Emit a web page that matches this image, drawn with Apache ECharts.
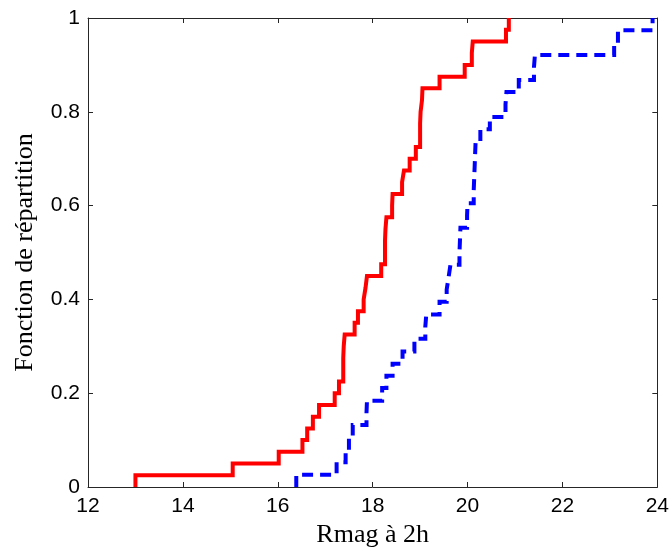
<!DOCTYPE html>
<html>
<head>
<meta charset="utf-8">
<script src="https://cdn.jsdelivr.net/npm/echarts@6/dist/echarts.min.js"></script>
<style>
html,body{margin:0;padding:0;background:#fff;}
#chart{width:672px;height:553px;}
</style>
</head>
<body>
<div id="chart"></div>
<script>
// x tick values
const xTicks = [12, 14, 16, 18, 20, 22, 24];
const yTicks = [0, 0.2, 0.4, 0.6, 0.8, 1];

// Red sample (solid): magnitudes at each step and cumulative level
const redMag = [13.0, 15.05, 16.02, 16.52, 16.62, 16.74, 16.87, 17.2, 17.29, 17.38,
  17.38, 17.39, 17.41, 17.62, 17.69, 17.81, 17.85, 17.88, 18.18, 18.26,
  18.26, 18.27, 18.29, 18.41, 18.42, 18.62, 18.66, 18.78, 18.91, 19.0,
  19.0, 19.01, 19.04, 19.05, 19.41, 19.94, 20.09, 20.11, 20.81, 20.87];
const redLevel = [0.025, 0.05, 0.075, 0.1, 0.125, 0.15, 0.175, 0.2, 0.225, 0.25,
  0.275, 0.3, 0.325, 0.35, 0.375, 0.4, 0.425, 0.45, 0.475, 0.5,
  0.525, 0.55, 0.575, 0.6, 0.625, 0.65, 0.675, 0.7, 0.725, 0.75,
  0.775, 0.8, 0.825, 0.85, 0.875, 0.9, 0.925, 0.95, 0.975, 1.0];

// Blue sample (dashed)
const blueMag = [16.39, 17.24, 17.43, 17.5, 17.58, 17.87, 17.88, 18.2, 18.29, 18.42,
  18.63, 18.88, 19.11, 19.13, 19.41, 19.56, 19.6, 19.64, 19.83, 19.84,
  19.85, 19.99, 20.0, 20.13, 20.14, 20.15, 20.16, 20.17, 20.27, 20.47,
  20.8, 20.82, 21.08, 21.4, 21.42, 23.09, 23.17, 23.9];
const blueLevel = [0.026, 0.053, 0.079, 0.105, 0.132, 0.158, 0.184, 0.211, 0.237, 0.263,
  0.289, 0.316, 0.342, 0.368, 0.395, 0.421, 0.447, 0.474, 0.5, 0.526,
  0.553, 0.579, 0.605, 0.632, 0.658, 0.684, 0.711, 0.737, 0.763, 0.789,
  0.816, 0.842, 0.868, 0.895, 0.921, 0.947, 0.974, 1.0];

function stepData(mag, lvl) {
  const d = [[mag[0], 0]];
  for (let i = 0; i < mag.length; i++) d.push([mag[i], lvl[i]]);
  return d;
}

const chart = echarts.init(document.getElementById('chart'), null, {renderer: 'canvas'});
const axisCol = '#262626';
const tickFont = {color: '#000', fontFamily: 'Liberation Sans, Arial, sans-serif', fontSize: 21};
const common = {
  axisLine: {show: true, onZero: false, lineStyle: {color: axisCol, width: 1}},
  axisTick: {show: true, inside: true, length: 5, lineStyle: {color: axisCol, width: 1}},
  splitLine: {show: false}
};
chart.setOption({
  animation: false,
  backgroundColor: '#fff',
  grid: {left: 88, right: 14, top: 18, bottom: 64, containLabel: false},
  xAxis: [
    Object.assign({
      type: 'value', min: xTicks[0], max: xTicks[xTicks.length - 1], interval: 2,
      position: 'bottom',
      axisLabel: Object.assign({show: true, margin: 9}, tickFont),
      name: 'Rmag à 2h', nameLocation: 'middle', nameGap: 35,
      nameTextStyle: {color: '#000', fontFamily: 'Liberation Serif, Times New Roman, serif', fontSize: 26}
    }, common),
    Object.assign({
      type: 'value', min: xTicks[0], max: xTicks[xTicks.length - 1], interval: 2,
      position: 'top', axisLabel: {show: false}
    }, common)
  ],
  yAxis: [
    Object.assign({
      type: 'value', min: yTicks[0], max: yTicks[yTicks.length - 1], interval: 0.2,
      position: 'left',
      axisLabel: Object.assign({show: true, margin: 8}, tickFont),
      name: 'Fonction de répartition', nameLocation: 'middle', nameGap: 50,
      nameTextStyle: {color: '#000', fontFamily: 'Liberation Serif, Times New Roman, serif', fontSize: 26}
    }, common),
    Object.assign({
      type: 'value', min: yTicks[0], max: yTicks[yTicks.length - 1], interval: 0.2,
      position: 'right', axisLabel: {show: false}
    }, common)
  ],
  series: [
    {
      type: 'line', step: 'end', showSymbol: false, clip: false,
      data: stepData(redMag, redLevel),
      lineStyle: {color: '#ff0000', width: 4, cap: 'butt', join: 'miter'},
      z: 3
    },
    {
      type: 'line', step: 'end', showSymbol: false, clip: false,
      data: stepData(blueMag, blueLevel),
      lineStyle: {color: '#0000ff', width: 4, type: [11, 7], cap: 'butt', join: 'miter'},
      z: 2
    }
  ]
});
</script>
</body>
</html>
